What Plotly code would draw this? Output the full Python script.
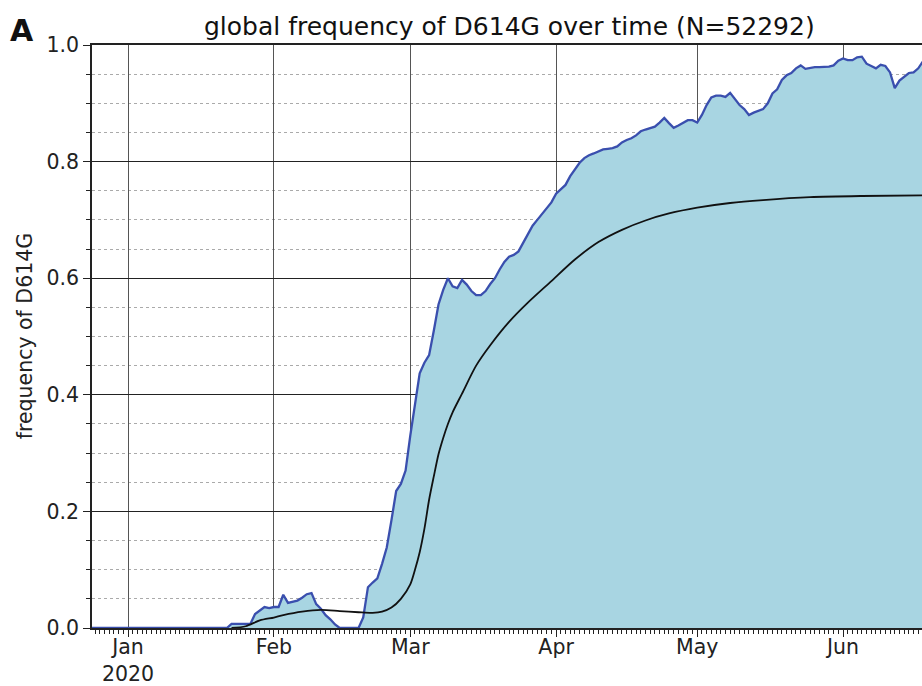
import plotly.graph_objects as go

# daily global frequency of D614G
freq_dates = [
    "2019-12-20", "2020-01-22", "2020-01-23", "2020-01-27", "2020-01-28", "2020-01-29",
    "2020-01-30", "2020-01-31", "2020-02-01", "2020-02-02", "2020-02-03", "2020-02-04",
    "2020-02-05", "2020-02-06", "2020-02-07", "2020-02-08", "2020-02-09", "2020-02-10",
    "2020-02-11", "2020-02-12", "2020-02-13", "2020-02-14", "2020-02-15", "2020-02-19",
    "2020-02-20", "2020-02-21", "2020-02-22", "2020-02-23", "2020-02-24", "2020-02-25",
    "2020-02-26", "2020-02-27", "2020-02-28", "2020-02-29", "2020-03-01", "2020-03-02",
    "2020-03-03", "2020-03-04", "2020-03-05", "2020-03-06", "2020-03-07", "2020-03-08",
    "2020-03-09", "2020-03-10", "2020-03-11", "2020-03-12", "2020-03-13", "2020-03-14",
    "2020-03-15", "2020-03-16", "2020-03-17", "2020-03-18", "2020-03-19", "2020-03-20",
    "2020-03-21", "2020-03-22", "2020-03-23", "2020-03-24", "2020-03-25", "2020-03-26",
    "2020-03-27", "2020-03-28", "2020-03-29", "2020-03-30", "2020-03-31", "2020-04-01",
    "2020-04-02", "2020-04-03", "2020-04-04", "2020-04-05", "2020-04-06", "2020-04-07",
    "2020-04-08", "2020-04-09", "2020-04-10", "2020-04-11", "2020-04-12", "2020-04-13",
    "2020-04-14", "2020-04-15", "2020-04-16", "2020-04-17", "2020-04-18", "2020-04-19",
    "2020-04-20", "2020-04-21", "2020-04-22", "2020-04-23", "2020-04-24", "2020-04-25",
    "2020-04-26", "2020-04-27", "2020-04-28", "2020-04-29", "2020-04-30", "2020-05-01",
    "2020-05-02", "2020-05-03", "2020-05-04", "2020-05-05", "2020-05-06", "2020-05-07",
    "2020-05-08", "2020-05-09", "2020-05-10", "2020-05-11", "2020-05-12", "2020-05-13",
    "2020-05-14", "2020-05-15", "2020-05-16", "2020-05-17", "2020-05-18", "2020-05-19",
    "2020-05-20", "2020-05-21", "2020-05-22", "2020-05-23", "2020-05-24", "2020-05-25",
    "2020-05-26", "2020-05-27", "2020-05-28", "2020-05-29", "2020-05-30", "2020-05-31",
    "2020-06-01", "2020-06-02", "2020-06-03", "2020-06-04", "2020-06-05", "2020-06-06",
    "2020-06-07", "2020-06-08", "2020-06-09", "2020-06-10", "2020-06-11", "2020-06-12",
    "2020-06-13", "2020-06-14", "2020-06-15", "2020-06-16", "2020-06-17", "2020-06-18",
    "2020-06-19",
]
freq_values = [
    0.0, 0.0, 0.007, 0.007, 0.024, 0.030,
    0.036, 0.034, 0.036, 0.036, 0.057, 0.043,
    0.045, 0.047, 0.052, 0.058, 0.060, 0.041,
    0.033, 0.022, 0.015, 0.006, 0.0, 0.0,
    0.018, 0.070, 0.078, 0.085, 0.110, 0.138,
    0.185, 0.235, 0.247, 0.270, 0.330, 0.385,
    0.437, 0.455, 0.468, 0.510, 0.555, 0.580,
    0.600, 0.586, 0.583, 0.597, 0.589, 0.578,
    0.571, 0.571, 0.578, 0.590, 0.600, 0.615,
    0.628, 0.637, 0.640, 0.646, 0.660, 0.675,
    0.690, 0.700, 0.710, 0.722, 0.730, 0.745,
    0.752, 0.760, 0.775, 0.786, 0.798, 0.806,
    0.811, 0.814, 0.817, 0.821, 0.822, 0.823,
    0.826, 0.833, 0.837, 0.840, 0.845, 0.852,
    0.855, 0.858, 0.860, 0.867, 0.875, 0.866,
    0.858, 0.862, 0.866, 0.871, 0.871, 0.867,
    0.880, 0.897, 0.910, 0.913, 0.913, 0.911,
    0.918, 0.908, 0.897, 0.890, 0.880, 0.884,
    0.887, 0.890, 0.900, 0.917, 0.924, 0.940,
    0.948, 0.952, 0.960, 0.965, 0.959, 0.961,
    0.962, 0.962, 0.962, 0.963, 0.965, 0.973,
    0.977, 0.974, 0.974, 0.979, 0.980, 0.968,
    0.964, 0.960, 0.966, 0.964, 0.953, 0.926,
    0.939, 0.945, 0.952, 0.953, 0.960, 0.972,
    0.975,
]

# smoothed trend (black line)
trend_dates = [
    "2020-01-23", "2020-01-26", "2020-01-29", "2020-02-01", "2020-02-03", "2020-02-07",
    "2020-02-11", "2020-02-15", "2020-02-19", "2020-02-22", "2020-02-24", "2020-02-26",
    "2020-02-28", "2020-03-01", "2020-03-02", "2020-03-03", "2020-03-04", "2020-03-05",
    "2020-03-06", "2020-03-07", "2020-03-08", "2020-03-09", "2020-03-10", "2020-03-12",
    "2020-03-15", "2020-03-18", "2020-03-22", "2020-03-26", "2020-03-31", "2020-04-05",
    "2020-04-10", "2020-04-15", "2020-04-20", "2020-04-25", "2020-05-01", "2020-05-08",
    "2020-05-15", "2020-05-25", "2020-06-05", "2020-06-19",
]
trend_values = [
    0.0, 0.003, 0.013, 0.018, 0.022, 0.028,
    0.031, 0.029, 0.027, 0.026, 0.028, 0.035,
    0.050, 0.075, 0.100, 0.130, 0.170, 0.220,
    0.260, 0.298, 0.326, 0.350, 0.370, 0.402,
    0.450, 0.485, 0.525, 0.558, 0.595, 0.632,
    0.662, 0.683, 0.699, 0.711, 0.721, 0.729,
    0.734, 0.739, 0.741, 0.742,
]

month_ticks = ["2020-01-01", "2020-02-01", "2020-03-01", "2020-04-01", "2020-05-01", "2020-06-01"]
month_labels = ["Jan<br>2020", "Feb", "Mar", "Apr", "May", "Jun"]

FONT = "DejaVu Sans"
TICK_SIZE = 20.5

fig = go.Figure()
fig.add_trace(
    go.Scatter(
        x=freq_dates,
        y=freq_values,
        mode="lines",
        fill="tozeroy",
        fillcolor="#a8d5e2",
        line=dict(color="#3a4fae", width=2.3),
        showlegend=False,
    )
)
fig.add_trace(
    go.Scatter(
        x=trend_dates,
        y=trend_values,
        mode="lines",
        line=dict(color="#111111", width=1.8, shape="spline", smoothing=0.8),
        showlegend=False,
    )
)

fig.update_layout(
    width=922,
    height=686,
    margin=dict(l=92, r=0, t=45, b=58),
    plot_bgcolor="white",
    paper_bgcolor="white",
    font=dict(family=FONT, color="#222222", size=TICK_SIZE),
    xaxis=dict(
        type="date",
        range=["2019-12-24 08:00", "2020-06-17 19:00"],
        automargin=False,
        tickvals=month_ticks,
        ticktext=month_labels,
        ticks="outside",
        ticklen=7,
        ticklabelstandoff=-7,
        tickcolor="#222222",
        showline=True,
        linecolor="#222222",
        linewidth=1.5,
        mirror=True,
        showgrid=True,
        gridcolor="#555555",
        gridwidth=1.2,
        zeroline=False,
        tickfont=dict(size=TICK_SIZE, family=FONT, color="#222222"),
        minor=dict(
            dtick=86400000,
            tick0="2020-01-01",
            ticks="outside",
            ticklen=4,
            tickcolor="#222222",
            showgrid=False,
        ),
    ),
    yaxis=dict(
        range=[0, 1],
        automargin=False,
        tickvals=[0, 0.2, 0.4, 0.6, 0.8, 1.0],
        tickformat=".1f",
        ticks="outside",
        ticklen=7,
        tickcolor="#222222",
        showline=True,
        linecolor="#222222",
        linewidth=1.5,
        mirror=False,
        showgrid=True,
        gridcolor="#222222",
        gridwidth=1.2,
        zeroline=False,
        tickfont=dict(size=TICK_SIZE, family=FONT, color="#222222"),
        minor=dict(
            dtick=0.05,
            tick0=0,
            ticks="outside",
            ticklen=4,
            tickcolor="#222222",
            showgrid=True,
            gridcolor="#aaaaaa",
            griddash="dot",
            gridwidth=1,
        ),
    ),
)

# title, y-axis label and panel letter
fig.add_annotation(
    text="global frequency of D614G over time (N=52292)",
    xref="paper", yref="paper",
    x=0.5036, y=1.031,
    xanchor="center", yanchor="middle",
    showarrow=False,
    font=dict(size=25, family=FONT, color="#111111"),
)
fig.add_annotation(
    text="frequency of D614G",
    xref="paper", yref="paper",
    x=-0.081, y=0.5,
    xanchor="center", yanchor="middle",
    textangle=-90,
    showarrow=False,
    font=dict(size=TICK_SIZE, family=FONT, color="#222222"),
)
fig.add_annotation(
    text="<b>A</b>",
    xref="paper", yref="paper",
    x=-0.101, y=1.058,
    xanchor="left", yanchor="top",
    showarrow=False,
    font=dict(size=30, family=FONT, color="#111111"),
)

fig.write_html(
    "out.html",
    config={"displayModeBar": False},
    post_script="document.body.style.margin='0';document.body.style.overflow='hidden';",
)
